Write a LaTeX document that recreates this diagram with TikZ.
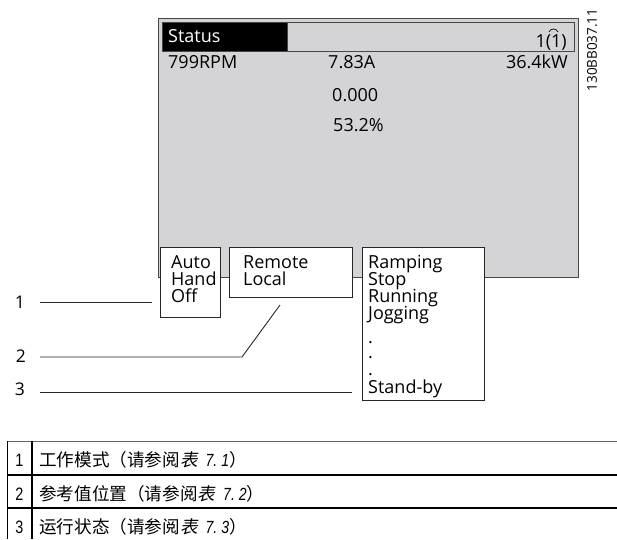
\documentclass[tikz,border=0pt]{standalone}
\usepackage{fontspec}
\setmainfont{Open Sans}
\newfontfamily\cjk{Noto Sans CJK SC}
\newfontfamily\cjkit[FakeSlant=0.2]{Noto Sans CJK SC}
\newfontfamily\narrowf[FakeStretch=0.8]{Liberation Sans}
\newfontfamily\codef{Open Sans}
\definecolor{lcdgray}{RGB}{212,212,214}
\definecolor{edge}{RGB}{70,70,70}
\begin{document}
\begin{tikzpicture}[x=1pt,y=-1pt,
  panel/.style={draw=edge, line width=0.9pt, inner sep=0pt, anchor=north west},
  wbox/.style={draw=black!85, line width=0.8pt, fill=white, inner sep=0pt, anchor=north west},
  txt/.style={font=\fontsize{18}{18}\selectfont, inner sep=0pt, anchor=base west},
  num/.style={font=\fontsize{17.5}{17.5}\selectfont, inner sep=0pt},
  leader/.style={draw=black!85, line width=0.9pt},
  tnum/.style={font=\narrowf\fontsize{18}{18}\selectfont, inner sep=0pt, anchor=base},
  tcjk/.style={font=\cjk\fontsize{17.6}{17.6}\selectfont, inner sep=0pt, anchor=base west}]
\useasboundingbox (0,0) rectangle (617,539);
% LCD panel
\node[panel, fill=lcdgray, minimum width=420pt, minimum height=259pt] (lcd) at (158,18) {};
\node[panel, fill=lcdgray, minimum width=412pt, minimum height=29pt] (bar) at (162,22) {};
\node[panel, fill=black, minimum width=125pt, minimum height=29pt] (statusbg) at (162,22) {};
\node[txt, text=white] (status) at (168,42) {Status};
\node[txt, anchor=base east] (page) at (567,47) {1(1)};
\draw[line width=0.7pt] ([xshift=-18pt,yshift=15pt]page.base east) .. controls +(1.5,-4) and +(-1.5,-4) .. ([xshift=-9pt,yshift=15pt]page.base east);
\node[txt] (rpm) at (168,68) {799RPM};
\node[txt] (amp) at (328,68) {7.83A};
\node[txt, anchor=base east] (kw) at (568,68) {36.4kW};
\node[txt] (ref) at (332,101) {0.000};
\node[txt] (pct) at (333,131) {53.2\%};
% mode boxes
\node[wbox, minimum width=60pt, minimum height=70pt] (boxA) at (160,247) {};
\node[wbox, minimum width=123pt, minimum height=50pt] (boxB) at (229,247) {};
\node[wbox, minimum width=122pt, minimum height=153pt] (boxC) at (362,247) {};
\foreach \t/\y [count=\i] in {Auto/268, Hand/285, Off/302}
  \node[txt] (a\i) at (171,\y) {\t};
\foreach \t/\y [count=\i] in {Remote/268, Local/285}
  \node[txt] (b\i) at (243,\y) {\t};
\foreach \t/\y [count=\i] in {Ramping/268, Stop/285, Running/302, Jogging/319, ./343, ./358, ./375, Stand-by/393}
  \node[txt] (c\i) at (368,\y) {\t};
% leaders
\node[num] (n1) at (20,302) {1};
\node[num] (n2) at (21,356) {2};
\node[num] (n3) at (20,389) {3};
\coordinate (k2) at (242,357);
\coordinate (e2) at (280,305);
\draw[leader] ([xshift=15pt]n1.east) -- ([xshift=-8pt]boxA.west |- n1);
\draw[leader] ([xshift=14pt]n2.east |- k2) -- (k2) -- (e2);
\draw[leader] ([xshift=15pt]n3.east |- 0,392) -- ([xshift=-10pt]boxC.west |- 0,392);
% code
\node[font=\codef\fontsize{13.5}{13.5}\selectfont, rotate=90, inner sep=0pt] (code) at (592,50) {130BB037.11};
% table
\draw[line width=1pt, black!60] (7,441) -- (617,441);
\draw[line width=1.6pt] (7,475) -- (617,475);
\draw[line width=1.6pt] (7,508) -- (617,508);
\draw[line width=0.9pt] (7,441) -- (7,539);
\draw[line width=1.6pt] (32,441) -- (32,539);
\node[tnum] (r1n) at (19.5,466) {1};
\node[tnum] (r2n) at (19.5,500) {2};
\node[tnum] (r3n) at (19.5,533) {3};
\node[tcjk] (r1t) at (39,466) {工作模式（请参阅{\cjkit 表}\hspace{8pt}{\narrowf\itshape 7.\hspace{4pt}1}）};
\node[tcjk] (r2t) at (39,500) {参考值位置（请参阅{\cjkit 表}\hspace{8pt}{\narrowf\itshape 7.\hspace{4pt}2}）};
\node[tcjk] (r3t) at (39,533) {运行状态（请参阅{\cjkit 表}\hspace{8pt}{\narrowf\itshape 7.\hspace{4pt}3}）};
\end{tikzpicture}
\end{document}
